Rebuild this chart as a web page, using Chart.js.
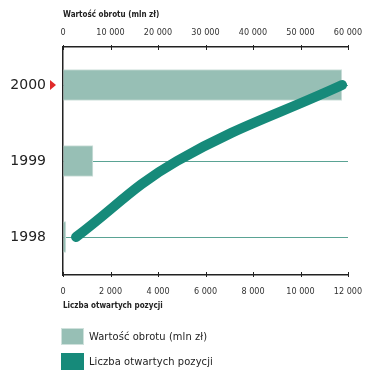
<!DOCTYPE html>
<html>
<head>
<meta charset="utf-8">
<script src="https://cdn.jsdelivr.net/npm/chart.js@4"></script>
<style>
  html, body { margin: 0; padding: 0; background: #fff; }
  #wrap { position: relative; width: 375px; height: 380px; }
  #legend { position: absolute; left: 61px; top: 328px; font-family: "DejaVu Sans", sans-serif; font-size: 11px; font-stretch: condensed; color: #222; letter-spacing: 0.1px; }
  .item { display: flex; align-items: center; height: 17px; margin-bottom: 8px; }
  .box { width: 23px; height: 17px; box-sizing: border-box; margin-right: 5px; }
</style>
</head>
<body>
<div id="wrap">
  <canvas id="chart" width="375" height="380"></canvas>
  <div id="legend"></div>
</div>
<script>
const years = ['2000', '1999', '1998'];
const turnover = [58700, 6300, 600];          // Wartość obrotu (mln zł)
const openPositions = [11750, 4800, 550];     // Liczba otwartych pozycji
const turnoverMax = 60000, turnoverStep = 10000;
const positionsMax = 12000, positionsStep = 2000;

const barColor = '#97bfb5', barEdge = '#cfe1dc';
const lineColor = '#168a7a';
// weight string carries the font-stretch keyword into the canvas font shorthand
const tickFont = { family: '"DejaVu Sans", sans-serif', size: 9, weight: 'normal condensed' };
const titleFont = { family: '"DejaVu Sans", sans-serif', size: 8, weight: 'bold condensed' };
const spaced = (v) => String(v).replace(/\B(?=(\d{3})+(?!\d))/g, ' ');

// short tick marks pointing into the plot, plus the red marker by 2000
const decor = {
  id: 'decor',
  afterDraw(chart) {
    const ctx = chart.ctx;
    const { x, x2, y } = chart.scales;
    ctx.save();
    ctx.strokeStyle = '#222';
    ctx.lineWidth = 1;
    x.ticks.forEach(t => {
      const px = Math.round(x.getPixelForValue(t.value)) + 0.5;
      ctx.beginPath(); ctx.moveTo(px, x.bottom - 2); ctx.lineTo(px, x.bottom + 3); ctx.stroke();
    });
    x2.ticks.forEach(t => {
      const px = Math.round(x2.getPixelForValue(t.value)) + 0.5;
      ctx.beginPath(); ctx.moveTo(px, x2.top - 3); ctx.lineTo(px, x2.top + 2); ctx.stroke();
    });
    const py = y.getPixelForValue(0);
    ctx.fillStyle = '#e02a2a';
    ctx.beginPath();
    ctx.moveTo(50, py - 5); ctx.lineTo(56, py); ctx.lineTo(50, py + 5);
    ctx.closePath(); ctx.fill();
    ctx.restore();
  }
};

const chart = new Chart(document.getElementById('chart'), {
  type: 'bar',
  data: {
    labels: years,
    datasets: [
      {
        type: 'line', label: 'Liczba otwartych pozycji', data: openPositions, xAxisID: 'x2',
        indexAxis: 'y', borderColor: lineColor, backgroundColor: lineColor, borderWidth: 10,
        borderCapStyle: 'round', pointRadius: 0, tension: 0.4, fill: false, order: 0
      },
      {
        label: 'Wartość obrotu (mln zł)', data: turnover, xAxisID: 'x',
        backgroundColor: barColor, borderColor: barEdge, borderWidth: 1,
        barThickness: 31, order: 1
      }
    ]
  },
  options: {
    indexAxis: 'y',
    responsive: false,
    animation: false,
    layout: { padding: { left: 0, right: 27, top: 0, bottom: 65 } },
    plugins: { legend: { display: false }, tooltip: { enabled: false } },
    scales: {
      x: {
        type: 'linear', position: 'top', min: 0, max: turnoverMax,
        ticks: { stepSize: turnoverStep, padding: 9, font: tickFont, color: '#333', callback: spaced },
        grid: { drawOnChartArea: false, drawTicks: false },
        border: { color: '#222', width: 1.5 },
        title: { display: true, text: 'Wartość obrotu (mln zł)', align: 'start', font: titleFont, color: '#222', padding: { top: 10, bottom: 0 } },
        afterFit: (s) => { s.height = 47; }
      },
      x2: {
        type: 'linear', position: 'bottom', min: 0, max: positionsMax,
        ticks: { stepSize: positionsStep, padding: 11, font: tickFont, color: '#333', callback: spaced },
        grid: { drawOnChartArea: false, drawTicks: false },
        border: { color: '#222', width: 1.5 },
        title: { display: true, text: 'Liczba otwartych pozycji', align: 'start', font: titleFont, color: '#222', padding: { top: 0, bottom: 4 } },
        afterFit: (s) => { s.height = 40; }
      },
      y: {
        type: 'category', position: 'left', offset: true,
        ticks: { padding: 17, font: { family: '"DejaVu Sans", sans-serif', size: 14 }, color: '#222' },
        grid: { offset: false, color: '#5aa394', lineWidth: 1, drawTicks: false },
        border: { color: '#222', width: 1.5 },
        afterFit: (s) => { s.width = 63; }
      }
    }
  },
  plugins: [decor]
});

// legend, from the datasets
const legend = document.getElementById('legend');
[chart.data.datasets[1], chart.data.datasets[0]].forEach(ds => {
  const item = document.createElement('div');
  item.className = 'item';
  const box = document.createElement('span');
  box.className = 'box';
  box.style.background = ds.backgroundColor;
  box.style.border = '1px solid ' + ds.borderColor;
  item.appendChild(box);
  item.appendChild(document.createTextNode(ds.label));
  legend.appendChild(item);
});
</script>
</body>
</html>
